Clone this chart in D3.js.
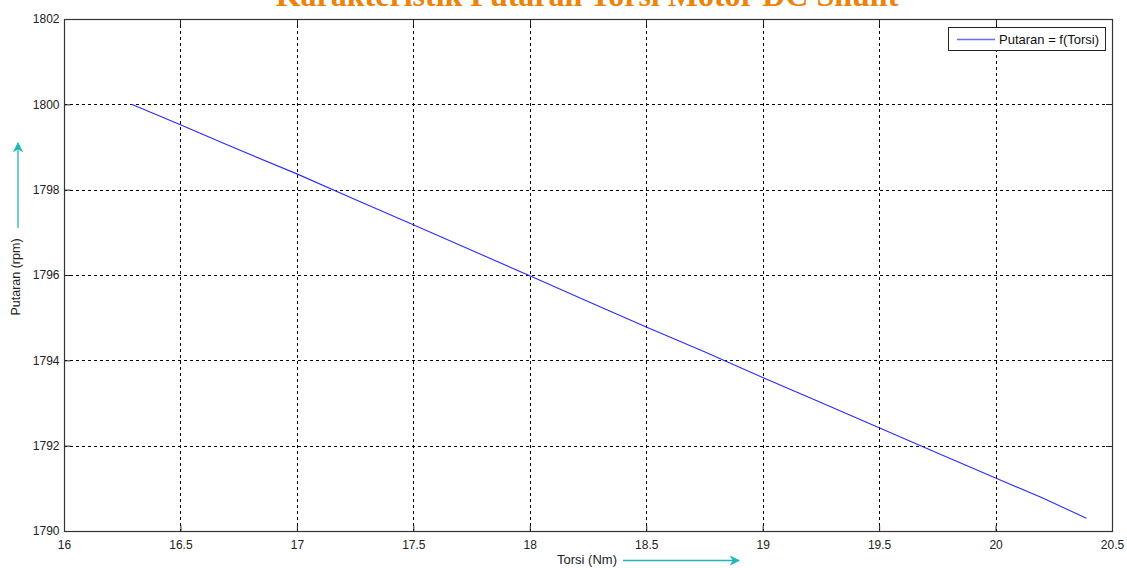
<!DOCTYPE html>
<html>
<head>
<meta charset="utf-8">
<script src="https://cdn.jsdelivr.net/npm/d3@7"></script>
<style>
  html, body { margin: 0; padding: 0; background: #fff; }
  svg { display: block; }
</style>
</head>
<body>
<svg id="chart" width="1127" height="568"></svg>
<script>
// Torque (Nm) vs. speed (rpm) of a shunt DC motor
const torsi   = [16.29, 16.5, 16.7, 17.0, 17.25, 17.5, 17.75, 18.0, 18.25, 18.5, 18.75, 19.0, 19.25, 19.5, 19.75, 20.0, 20.2, 20.39];
const putaran = [1800.0, 1799.52, 1799.05, 1798.37, 1797.77, 1797.18, 1796.58, 1795.98, 1795.38, 1794.78, 1794.2, 1793.6, 1793.01, 1792.42, 1791.83, 1791.24, 1790.78, 1790.3];
const xTicks = [16, 16.5, 17, 17.5, 18, 18.5, 19, 19.5, 20, 20.5];
const yTicks = [1790, 1792, 1794, 1796, 1798, 1800, 1802];

const svg = d3.select("#chart");
const m = { left: 64, right: 1112, top: 19, bottom: 531 };

const x = d3.scaleLinear().domain([16, 20.5]).range([m.left, m.right]);
const y = d3.scaleLinear().domain([1790, 1802]).range([m.bottom, m.top]);

// title (sits partly above the top edge of the figure)
svg.append("text")
  .attr("x", 587).attr("y", 6)
  .attr("text-anchor", "middle")
  .attr("font-family", "'Liberation Serif', 'Times New Roman', serif")
  .attr("font-weight", "bold")
  .attr("font-size", 32)
  .attr("fill", "#ec840c")
  .text("Karakteristik Putaran Torsi Motor DC Shunt");

// grid
const grid = svg.append("g").attr("stroke", "#000").attr("stroke-width", 1)
  .attr("stroke-dasharray", "3,3").attr("shape-rendering", "crispEdges");
xTicks.slice(1, -1).forEach(t => {
  grid.append("line").attr("x1", Math.round(x(t)) + 0.5).attr("x2", Math.round(x(t)) + 0.5)
    .attr("y1", m.top).attr("y2", m.bottom);
});
yTicks.slice(1, -1).forEach(t => {
  grid.append("line").attr("y1", Math.round(y(t)) + 0.5).attr("y2", Math.round(y(t)) + 0.5)
    .attr("x1", m.left).attr("x2", m.right);
});

// axes
const fontAxis = "'Liberation Sans', Arial, sans-serif";
const xAxis = svg.append("g")
  .attr("transform", `translate(0,${m.bottom + 0.5})`)
  .call(d3.axisBottom(x).tickValues(xTicks).tickSizeInner(-6).tickSizeOuter(0).tickPadding(9)
    .tickFormat(d => String(d)));
const yAxis = svg.append("g")
  .attr("transform", `translate(${m.left + 0.5},0)`)
  .call(d3.axisLeft(y).tickValues(yTicks).tickSizeInner(-6).tickSizeOuter(0).tickPadding(5)
    .tickFormat(d3.format("d")));
[xAxis, yAxis].forEach(g => {
  g.selectAll("path").remove();
  g.selectAll("line").attr("stroke", "#222");
  g.selectAll("text").attr("font-family", fontAxis).attr("font-size", 12).attr("fill", "#222");
});

// box
svg.append("rect")
  .attr("x", m.left + 0.5).attr("y", m.top + 0.5)
  .attr("width", m.right - m.left).attr("height", m.bottom - m.top)
  .attr("fill", "none").attr("stroke", "#333").attr("stroke-width", 1.2);
// top/right tick marks
xTicks.slice(1, -1).forEach(t => {
  svg.append("line").attr("x1", Math.round(x(t)) + 0.5).attr("x2", Math.round(x(t)) + 0.5)
    .attr("y1", m.top).attr("y2", m.top + 6).attr("stroke", "#222");
});
yTicks.slice(1, -1).forEach(t => {
  svg.append("line").attr("y1", Math.round(y(t)) + 0.5).attr("y2", Math.round(y(t)) + 0.5)
    .attr("x1", m.right - 6).attr("x2", m.right).attr("stroke", "#222");
});

// data line
const line = d3.line().x((d, i) => x(torsi[i])).y(d => y(d));
svg.append("path")
  .datum(putaran)
  .attr("d", line)
  .attr("fill", "none")
  .attr("stroke", "#2b2bff")
  .attr("stroke-width", 1.1);

// legend
const lg = svg.append("g");
lg.append("rect").attr("x", 948.5).attr("y", 27.5).attr("width", 157).attr("height", 23)
  .attr("fill", "#fff").attr("stroke", "#222").attr("stroke-width", 1);
lg.append("line").attr("x1", 957).attr("x2", 995).attr("y1", 39.5).attr("y2", 39.5)
  .attr("stroke", "#6a6aff").attr("stroke-width", 1.4);
lg.append("text").attr("x", 999).attr("y", 44)
  .attr("font-family", fontAxis).attr("font-size", 13).attr("fill", "#111")
  .text("Putaran = f(Torsi)");

// axis labels with arrows
const arrowColor = "#1fb8b8";
svg.append("defs").append("marker")
  .attr("id", "arr").attr("viewBox", "0 0 10 10").attr("refX", 9).attr("refY", 5)
  .attr("markerWidth", 8).attr("markerHeight", 8).attr("orient", "auto")
  .append("path").attr("d", "M0,0 L10,5 L0,10 L3,5 Z").attr("fill", arrowColor);

svg.append("text")
  .attr("transform", "translate(20,277) rotate(-90)")
  .attr("text-anchor", "middle")
  .attr("font-family", fontAxis).attr("font-size", 12.5).attr("fill", "#222")
  .text("Putaran (rpm)");
svg.append("line").attr("x1", 18).attr("x2", 18).attr("y1", 228).attr("y2", 143)
  .attr("stroke", arrowColor).attr("stroke-width", 1.3).attr("marker-end", "url(#arr)");

svg.append("text")
  .attr("x", 587).attr("y", 564)
  .attr("text-anchor", "middle")
  .attr("font-family", fontAxis).attr("font-size", 13).attr("fill", "#222")
  .text("Torsi (Nm)");
svg.append("line").attr("x1", 623).attr("x2", 739).attr("y1", 560.5).attr("y2", 560.5)
  .attr("stroke", arrowColor).attr("stroke-width", 1.3).attr("marker-end", "url(#arr)");
</script>
</body>
</html>
